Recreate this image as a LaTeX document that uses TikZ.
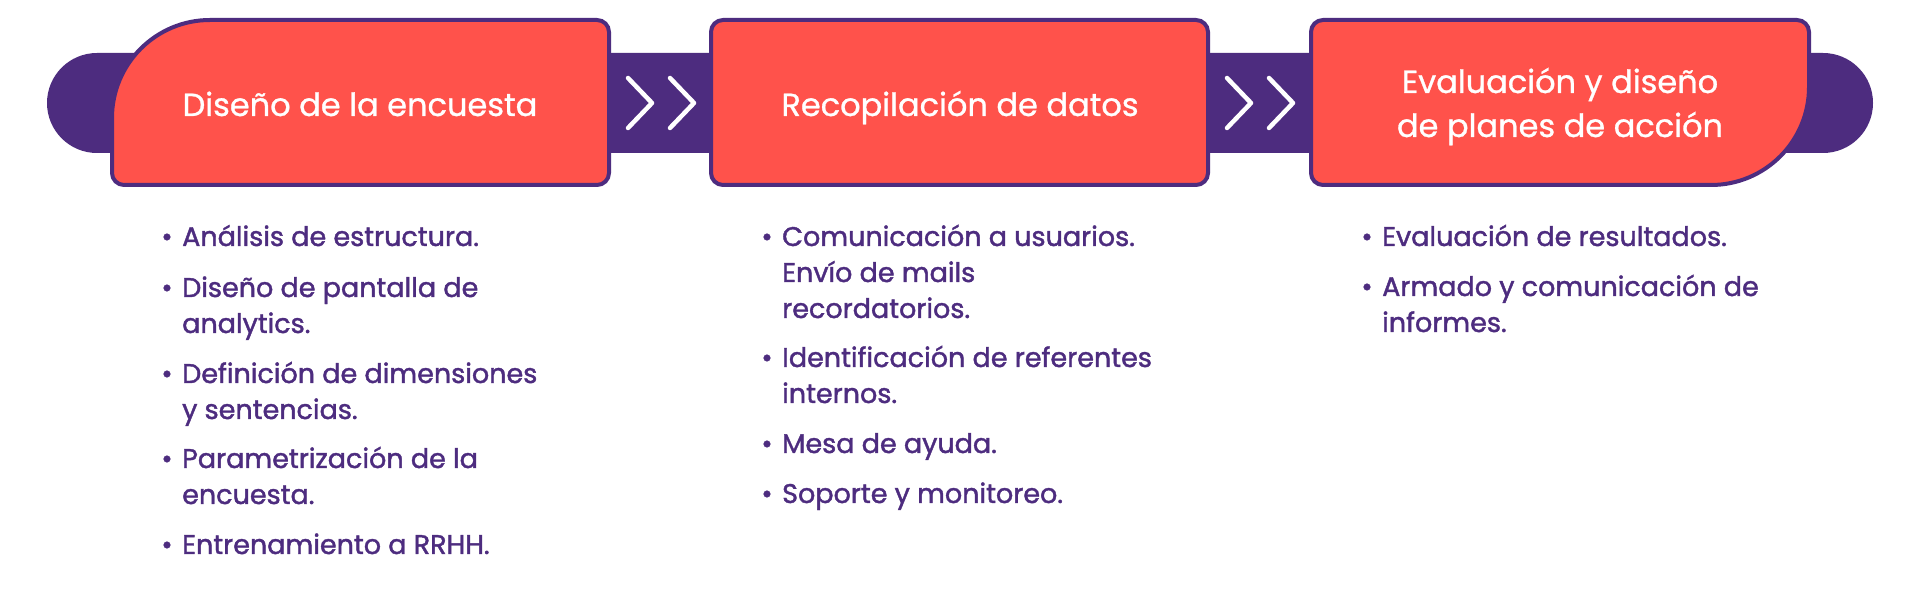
\documentclass[tikz,border=0pt]{standalone}
\usepackage{fontspec}
\setmainfont{Poppins}
\newfontfamily\itemfont{Poppins}[FakeBold=1.5]
\newfontfamily\titlefont{Poppins}[FakeBold=0.9]
\definecolor{brandpurple}{HTML}{4D2C7F}
\definecolor{brandcoral}{HTML}{FF524B}
\tikzset{
  band/.style={fill=brandpurple},
  stagebox/.style={fill=brandcoral, draw=brandpurple, line width=4pt},
  chev/.style={draw=white, line width=4.5pt, line cap=round, line join=round},
  titletext/.style={text=white, font=\titlefont\fontsize{32}{44}\selectfont, inner sep=0pt, align=center},
  itemtext/.style={text=brandpurple, font=\itemfont\fontsize{27}{36}\selectfont, inner sep=0pt, anchor=base west, align=left},
  bullettext/.style={text=brandpurple, font=\itemfont\fontsize{27}{36}\selectfont, inner sep=0pt, anchor=base},
}
% #1 name, #2 x, #3 first baseline, #4 number of lines, #5 text
\newcommand{\bitem}[5]{%
  \node[bullettext] (#1b) at (#2-15,#3) {•};
  \node[itemtext] (#1) at (#2,#3-36*#4+36) {#5};
}
\begin{document}
\begin{tikzpicture}[x=1pt,y=1pt]
\useasboundingbox (0,0) rectangle (1920,600);
\fill[white] (0,0) rectangle (1920,600);
% band
\fill[band, rounded corners=50pt] (47,447) rectangle (1873,547);
% box 1 (big top-left corner)
\draw[stagebox] (112,429) -- (112,482) arc[start angle=180,end angle=90,radius=98]
  -- (597,580) arc[start angle=90,end angle=0,radius=12]
  -- (609,427) arc[start angle=0,end angle=-90,radius=12]
  -- (124,415) arc[start angle=270,end angle=180,radius=12] -- cycle;
% box 2
\draw[stagebox, rounded corners=12pt] (711,415) rectangle (1208,580);
% box 3 (big bottom-right corner)
\draw[stagebox] (1311,427) -- (1311,568) arc[start angle=180,end angle=90,radius=12]
  -- (1797,580) arc[start angle=90,end angle=0,radius=12]
  -- (1809,513) arc[start angle=0,end angle=-90,radius=98]
  -- (1323,415) arc[start angle=270,end angle=180,radius=12] -- cycle;
% chevrons
\coordinate (c1a) at (628,522); \coordinate (c1t) at (652,497); \coordinate (c1b) at (628,472);
\coordinate (c2a) at (670,522); \coordinate (c2t) at (694,497); \coordinate (c2b) at (670,472);
\coordinate (c3a) at (1227,522); \coordinate (c3t) at (1251,497); \coordinate (c3b) at (1227,472);
\coordinate (c4a) at (1269,522); \coordinate (c4t) at (1293,497); \coordinate (c4b) at (1269,472);
\draw[chev] (c1a) -- (c1t) -- (c1b);
\draw[chev] (c2a) -- (c2t) -- (c2b);
\draw[chev] (c3a) -- (c3t) -- (c3b);
\draw[chev] (c4a) -- (c4t) -- (c4b);
% titles
\node[titletext, anchor=base] (t1) at (360,484) {Diseño de la encuesta};
\node[titletext, anchor=base] (t2) at (960,484) {Recopilación de datos};
\node[titletext, anchor=base] (t3) at (1560,463) {Evaluación y diseño\\de planes de acción};
% column 1
\bitem{a1}{182}{354}{1}{Análisis de estructura.}
\bitem{a2}{182}{303}{2}{Diseño de pantalla de\\analytics.}
\bitem{a3}{182}{217}{2}{Definición de dimensiones\\y sentencias.}
\bitem{a4}{182}{132}{2}{Parametrización de la\\encuesta.}
\bitem{a5}{182}{46}{1}{Entrenamiento a RRHH.}
% column 2
\bitem{b1}{782}{354}{3}{Comunicación a usuarios.\\Envío de mails\\recordatorios.}
\bitem{b2}{782}{233}{2}{Identificación de referentes\\internos.}
\bitem{b3}{782}{147}{1}{Mesa de ayuda.}
\bitem{b4}{782}{97}{1}{Soporte y monitoreo.}
% column 3
\bitem{c1}{1382}{354}{1}{Evaluación de resultados.}
\bitem{c2}{1382}{304}{2}{Armado y comunicación de\\informes.}
\end{tikzpicture}
\end{document}
